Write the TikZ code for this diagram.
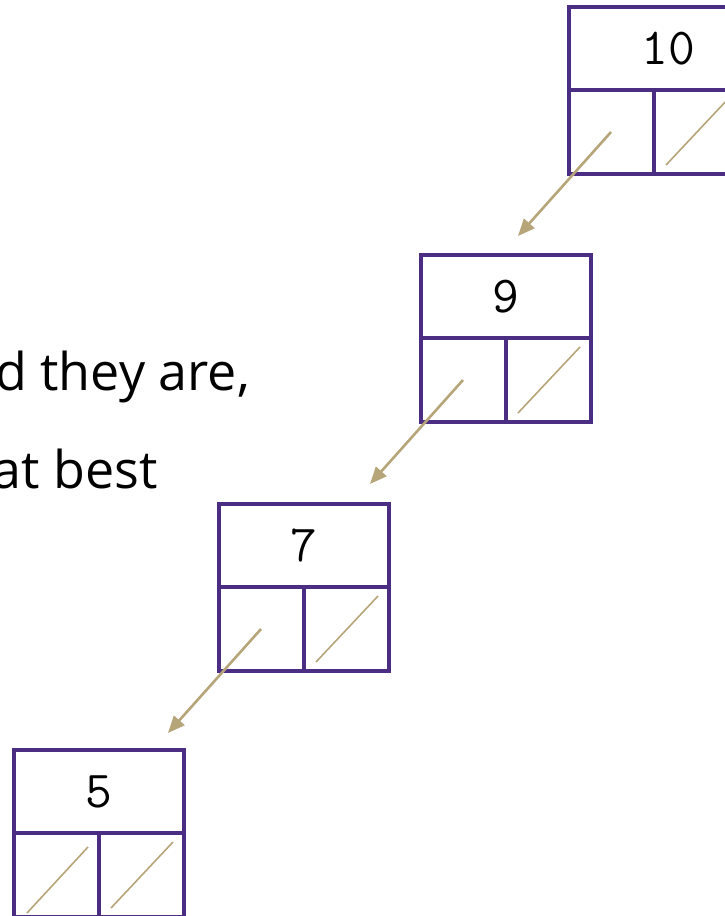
\documentclass[tikz,border=0pt]{standalone}
\usepackage{fontspec}
\setmainfont{Open Sans}
\usetikzlibrary{arrows.meta}
\definecolor{uwpurple}{HTML}{4B2E83}
\definecolor{uwgold}{HTML}{B7A57A}
\tikzset{
  cellbox/.style={draw=uwpurple, line width=3.4pt, line join=miter},
  nilslash/.style={draw=uwgold, line width=1.6pt},
  ptr/.style={draw=uwgold, line width=2.6pt, -{Triangle[length=17pt,width=14pt]}},
  val/.style={font=\fontsize{52}{52}\selectfont\ttfamily, text=black, inner sep=0pt},
  prose/.style={font=\fontsize{52}{52}\selectfont, text=black, inner sep=0pt}
}
% #1 name, #2 left, #3 top, #4 value, #5 value x offset
\newcommand{\lnode}[5]{%
  \draw[cellbox] (#2,#3) rectangle ++(170,167);
  \draw[cellbox] (#2,#3+83) -- ++(170,0);
  \draw[cellbox] (#2+85,#3+83) -- ++(0,84);
  \node[val] (#1v) at (#2+#5,#3+42) {#4};
  \coordinate (#1s) at (#2+42,#3+125);
  \coordinate (#1e) at (#2-51,#3+229);
  \coordinate (#1ra) at (#2+97,#3+158);
  \coordinate (#1rb) at (#2+159,#3+92);
  \coordinate (#1la) at (#2+13,#3+163);
  \coordinate (#1lb) at (#2+74,#3+97);
}
\begin{document}
\begin{tikzpicture}[x=1pt,y=-1pt]
\useasboundingbox (0,0) rectangle (725,916);
\clip (0,0) rectangle (725,916);
\lnode{n10}{569}{7}{10}{99}
\lnode{n9}{421}{255}{9}{85}
\lnode{n7}{219}{504}{7}{85}
\lnode{n5}{14}{750}{5}{85}
% nil slashes
\draw[nilslash] (n10ra) -- (n10rb);
\draw[nilslash] (n9ra) -- (n9rb);
\draw[nilslash] (n7ra) -- (n7rb);
\draw[nilslash] (n5ra) -- (n5rb);
\draw[nilslash] (n5la) -- (n5lb);
% pointers
\draw[ptr] (n10s) -- (n10e);
\draw[ptr] (n9s) -- (n9e);
\draw[ptr] (n7s) -- (n7e);
% text
\node[prose, anchor=base east] (t1) at (250,390) {d they are,};
\node[prose, anchor=base east] (t2) at (158,488) {at best};
\end{tikzpicture}
\end{document}
